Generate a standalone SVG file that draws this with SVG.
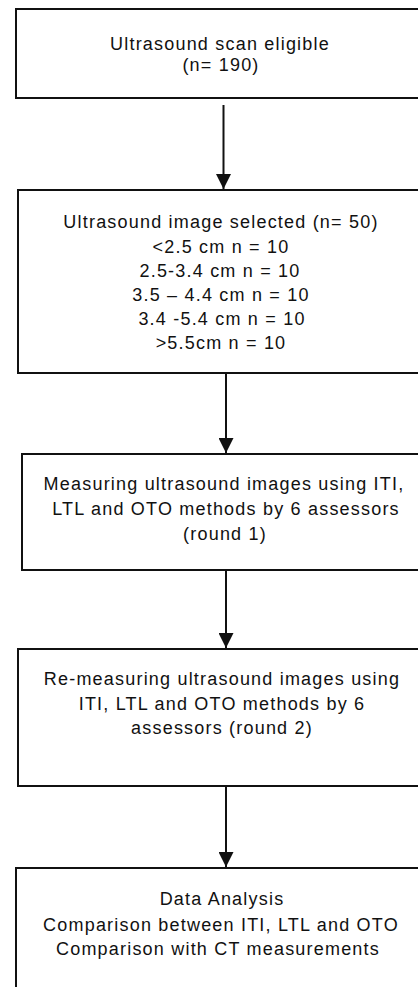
<svg xmlns="http://www.w3.org/2000/svg" width="418" height="987" viewBox="0 0 418 987">
  <defs>
    <marker id="arrow" viewBox="0 0 15 15" refX="15" refY="7.5" markerWidth="15" markerHeight="15" markerUnits="userSpaceOnUse" orient="auto">
      <path d="M0,0 L15,7.5 L0,15 Z" fill="#111"/>
    </marker>
    <style>
      rect.box { fill: #fff; stroke: #111; stroke-width: 2; }
      text { font-family: "Liberation Sans", Arial, sans-serif; font-size: 18px; letter-spacing: 1.2px; fill: #111; text-anchor: middle; }
      .conn line { stroke: #111; stroke-width: 2; marker-end: url(#arrow); }
    </style>
  </defs>
  <rect width="418" height="987" fill="#fff"/>

  <g id="eligible">
    <rect class="box" x="16" y="9" width="420" height="89"/>
    <text x="220" y="50">Ultrasound scan eligible</text>
    <text x="221" y="71">(n= 190)</text>
  </g>

  <g id="selected">
    <rect class="box" x="18" y="190" width="420" height="183"/>
    <text x="221" y="228">Ultrasound image selected (n= 50)</text>
    <text x="221" y="252.5">&lt;2.5 cm n = 10</text>
    <text x="220" y="276.7">2.5-3.4 cm n = 10</text>
    <text x="221" y="301">3.5 – 4.4 cm n = 10</text>
    <text x="222" y="325">3.4 -5.4 cm n = 10</text>
    <text x="221" y="349">&gt;5.5cm n = 10</text>
  </g>

  <g id="round1">
    <rect class="box" x="22" y="454" width="420" height="116"/>
    <text x="224" y="490">Measuring ultrasound images  using ITI,</text>
    <text x="226" y="515">LTL and OTO  methods by 6 assessors</text>
    <text x="225" y="540">(round 1)</text>
  </g>

  <g id="round2">
    <rect class="box" x="18" y="649" width="420" height="137"/>
    <text x="222" y="685">Re-measuring ultrasound images  using</text>
    <text x="222" y="710">ITI,  LTL and OTO  methods by 6</text>
    <text x="222" y="734">assessors (round 2)</text>
  </g>

  <g id="analysis">
    <rect class="box" x="16" y="868" width="420" height="140"/>
    <text x="222" y="905">Data Analysis</text>
    <text x="221" y="930.5">Comparison between ITI, LTL and OTO</text>
    <text x="218" y="955">Comparison with CT measurements</text>
  </g>

  <g class="conn" id="connectors">
    <line x1="223.5" y1="105" x2="223.5" y2="189"/>
    <line x1="226" y1="374" x2="226" y2="453"/>
    <line x1="226" y1="571" x2="226" y2="648"/>
    <line x1="226" y1="787" x2="226" y2="867"/>
  </g>
</svg>
